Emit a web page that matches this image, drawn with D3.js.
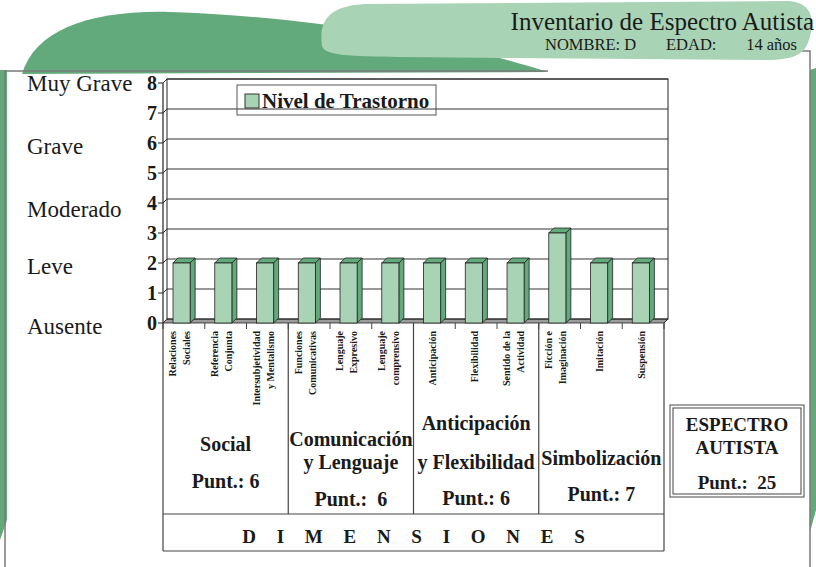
<!DOCTYPE html>
<html>
<head>
<meta charset="utf-8">
<script src="https://cdn.jsdelivr.net/npm/d3@7"></script>
<style>
  body { margin: 0; background: #fff; }
  text { font-family: "Liberation Serif", "DejaVu Serif", serif; fill: #1a1a1a; }
</style>
</head>
<body>
<div id="chart"></div>
<script>
// data
const categories = [
  ["Relaciones", "Sociales"], ["Referencia", "Conjunta"], ["Intersubjetividad", "y Mentalismo"],
  ["Funciones", "Comunicativas"], ["Lenguaje", "Expresivo"], ["Lenguaje", "comprensivo"],
  ["Anticipación"], ["Flexibilidad"], ["Sentido de la", "Actividad"],
  ["Ficción e", "Imaginación"], ["Imitación"], ["Suspensión"]
];
const values = [2, 2, 2, 2, 2, 2, 2, 2, 2, 3, 2, 2];
const yTicks = [0, 1, 2, 3, 4, 5, 6, 7, 8];
const severityLabels = ["Muy Grave", "Grave", "Moderado", "Leve", "Ausente"];
const severityLevels = [8, 5.9, 3.8, 1.9, -0.1];
const dimensionNames = [["Social"], ["Comunicación", "y Lenguaje"], ["Anticipación", "y Flexibilidad"], ["Simbolización"]];
const dimensionScores = ["Punt.: 6", "Punt.:  6", "Punt.: 6", "Punt.: 7"];
const dimensionSpan = 3;
const totalScore = "Punt.:  25";

const width = 816, height = 567;
const darkGreen = "#62aa7b", lightGreen = "#a9d3b5";

const svg = d3.select("#chart").append("svg")
  .attr("width", width).attr("height", height);

// background shapes
svg.append("path")
  .attr("d", "M22,74 C35,30 90,10 170,12 C300,16 450,40 548,72 Z")
  .attr("fill", darkGreen);
svg.append("path")
  .attr("d", "M0,70 L7,70 L7,520 L0,540 Z")
  .attr("fill", darkGreen);
svg.append("path")
  .attr("d", "M810,70 L816,68 L816,510 L810,532 Z")
  .attr("fill", darkGreen);

// page frame
svg.append("path")
  .attr("d", "M5,567 V71 H548 M798,51 H810 V567")
  .attr("fill", "none").attr("stroke", "#7a7a7a").attr("stroke-width", 1.5);

// title blob
svg.append("path")
  .attr("d", "M322,46 C318,18 332,6 365,4 L785,1 C808,1 816,14 810,36 C806,54 796,60 765,60 L400,57 C350,56 325,56 322,46 Z")
  .attr("fill", lightGreen);
svg.append("text")
  .attr("x", 814).attr("y", 30).attr("text-anchor", "end")
  .style("font-size", "25px").text("Inventario de Espectro Autista");
svg.append("text")
  .attr("x", 545).attr("y", 50)
  .style("font-size", "16.5px").text("NOMBRE: D");
svg.append("text")
  .attr("x", 666).attr("y", 50)
  .style("font-size", "16.5px").text("EDAD:");
svg.append("text")
  .attr("x", 797).attr("y", 50).attr("text-anchor", "end")
  .style("font-size", "16.5px").text("14 años");

// scales
const depth = 4, barDepth = 5;
const x = d3.scaleBand().domain(d3.range(categories.length)).range([163, 664]);
const y = d3.scaleLinear().domain([0, 8]).range([323, 83]);
const step = x.step();
const barOffset = step * 0.24, barWidth = step * 0.41;
const x0 = x.range()[0], x1 = x.range()[1];

// floor
svg.append("path")
  .attr("d", `M${x0},${y(0)} L${x0 + depth},${y(0) - depth} L${x1 + depth},${y(0) - depth} L${x1},${y(0)} Z`)
  .attr("fill", "#9c9c9c").attr("stroke", "#222").attr("stroke-width", 0.8);

// back wall grid
svg.append("g").selectAll("line")
  .data(yTicks.slice(1))
  .join("line")
  .attr("x1", x0 + depth).attr("x2", x1 + depth)
  .attr("y1", d => y(d) - depth).attr("y2", d => y(d) - depth)
  .attr("stroke", "#333").attr("stroke-width", 1);
svg.append("g").selectAll("line")
  .data(yTicks)
  .join("line")
  .attr("x1", x0).attr("x2", x0 + depth)
  .attr("y1", d => y(d)).attr("y2", d => y(d) - depth)
  .attr("stroke", "#333").attr("stroke-width", 1);
svg.append("rect")
  .attr("x", x0 + depth).attr("y", y(8) - depth)
  .attr("width", x1 - x0).attr("height", y(0) - y(8))
  .attr("fill", "none").attr("stroke", "#222").attr("stroke-width", 1);
svg.append("line")
  .attr("x1", x0).attr("x2", x0).attr("y1", y(8)).attr("y2", y(0))
  .attr("stroke", "#222").attr("stroke-width", 1.2);
svg.append("line")
  .attr("x1", x1).attr("x2", x1 + depth).attr("y1", y(0)).attr("y2", y(0) - depth)
  .attr("stroke", "#222");

// legend
const legend = svg.append("g");
legend.append("rect")
  .attr("x", 237).attr("y", 85).attr("width", 199).attr("height", 30)
  .attr("fill", "none").attr("stroke", "#555").attr("stroke-width", 1);
legend.append("rect")
  .attr("x", 245).attr("y", 94).attr("width", 14).attr("height", 14)
  .attr("fill", lightGreen).attr("stroke", "#333");
legend.append("text")
  .attr("x", 262).attr("y", 108)
  .style("font-size", "21px").style("font-weight", "bold")
  .text("Nivel de Trastorno");

// bars
const bars = svg.append("g").selectAll("g")
  .data(values)
  .join("g");
bars.append("path")
  .attr("d", (d, i) => {
    const bx = x(i) + barOffset, yv = y(d);
    return `M${bx},${yv} L${bx + barDepth},${yv - barDepth} L${bx + barWidth + barDepth},${yv - barDepth} L${bx + barWidth},${yv} Z`;
  })
  .attr("fill", darkGreen).attr("stroke", "#222").attr("stroke-width", 0.8);
bars.append("path")
  .attr("d", (d, i) => {
    const bx = x(i) + barOffset + barWidth, yv = y(d);
    return `M${bx},${yv} L${bx + barDepth},${yv - barDepth} L${bx + barDepth},${y(0) - barDepth} L${bx},${y(0)} Z`;
  })
  .attr("fill", darkGreen).attr("stroke", "#222").attr("stroke-width", 0.8);
bars.append("rect")
  .attr("x", (d, i) => x(i) + barOffset)
  .attr("y", d => y(d))
  .attr("width", barWidth)
  .attr("height", d => y(0) - y(d))
  .attr("fill", lightGreen).attr("stroke", "#222").attr("stroke-width", 0.8);

// y axis ticks and labels
svg.append("g").selectAll("line")
  .data(yTicks)
  .join("line")
  .attr("x1", x0 - 5).attr("x2", x0)
  .attr("y1", d => y(d)).attr("y2", d => y(d))
  .attr("stroke", "#222");
svg.append("g").selectAll("text")
  .data(yTicks)
  .join("text")
  .attr("x", x0 - 6).attr("y", d => y(d))
  .attr("text-anchor", "end").attr("dominant-baseline", "central")
  .style("font-size", "20px").style("font-weight", "bold")
  .text(d => d);

// severity labels
svg.append("g").selectAll("text")
  .data(severityLabels)
  .join("text")
  .attr("x", 27).attr("y", (d, i) => y(severityLevels[i]))
  .attr("dominant-baseline", "central")
  .style("font-size", "23px")
  .text(d => d);

// x axis ticks
svg.append("g").selectAll("line")
  .data(d3.range(categories.length + 1))
  .join("line")
  .attr("x1", k => x0 + step * k).attr("x2", k => x0 + step * k)
  .attr("y1", y(0)).attr("y2", y(0) + 6)
  .attr("stroke", "#444");

// category labels (rotated)
const catG = svg.append("g").selectAll("g")
  .data(categories)
  .join("g")
  .attr("transform", (d, i) => `translate(${x(i) + step / 2},331)`);
catG.selectAll("text")
  .data(d => d.map((t, j) => ({ t, j, n: d.length })))
  .join("text")
  .attr("transform", d => `translate(${d.n === 1 ? -2 : (d.j === 0 ? -11 : 3)},0) rotate(-90)`)
  .attr("text-anchor", "end").attr("dominant-baseline", "central")
  .style("font-size", "10px").style("font-weight", "bold")
  .text(d => d.t);

// dimensions table
const tableTop = y(0), rowLine = 514, tableBottom = 551;
const table = svg.append("g").attr("stroke", "#444").attr("stroke-width", 1.2);
table.selectAll("line.v")
  .data(d3.range(0, categories.length + 1, dimensionSpan))
  .join("line")
  .attr("class", "v")
  .attr("x1", k => x0 + step * k).attr("x2", k => x0 + step * k)
  .attr("y1", tableTop).attr("y2", k => (k === 0 || k === categories.length) ? tableBottom : rowLine);
table.append("line").attr("x1", x0).attr("x2", x1).attr("y1", rowLine).attr("y2", rowLine);
table.append("line").attr("x1", x0).attr("x2", x1).attr("y1", tableBottom).attr("y2", tableBottom);

const nameY = [[451], [446, 469], [430, 469], [465]];
const scoreY = [488, 506, 505, 501];
dimensionNames.forEach((lines, i) => {
  const cx = x0 + step * dimensionSpan * (i + 0.5);
  lines.forEach((t, j) => {
    svg.append("text")
      .attr("x", cx).attr("y", nameY[i][j]).attr("text-anchor", "middle")
      .style("font-size", "20px").style("font-weight", "bold")
      .text(t);
  });
  svg.append("text")
    .attr("x", cx).attr("y", scoreY[i]).attr("text-anchor", "middle")
    .style("font-size", "20px").style("font-weight", "bold")
    .style("white-space", "pre")
    .text(dimensionScores[i]);
});

svg.append("text")
  .attr("x", (x0 + x1) / 2 + 4).attr("y", 543).attr("text-anchor", "middle")
  .style("font-size", "19px").style("font-weight", "bold")
  .style("letter-spacing", "8px")
  .text("D I M E N S I O N E S");

// total box
svg.append("rect")
  .attr("x", 670).attr("y", 405).attr("width", 134).attr("height", 92)
  .attr("fill", "#fff").attr("stroke", "#666").attr("stroke-width", 1.2);
svg.append("rect")
  .attr("x", 673).attr("y", 408).attr("width", 128).attr("height", 86)
  .attr("fill", "none").attr("stroke", "#444").attr("stroke-width", 1);
[["ESPECTRO", 431], ["AUTISTA", 454], [totalScore, 489]].forEach(([t, ty]) => {
  svg.append("text")
    .attr("x", 737).attr("y", ty).attr("text-anchor", "middle")
    .style("font-size", "19px").style("font-weight", "bold")
    .style("white-space", "pre")
    .text(t);
});
</script>
</body>
</html>
